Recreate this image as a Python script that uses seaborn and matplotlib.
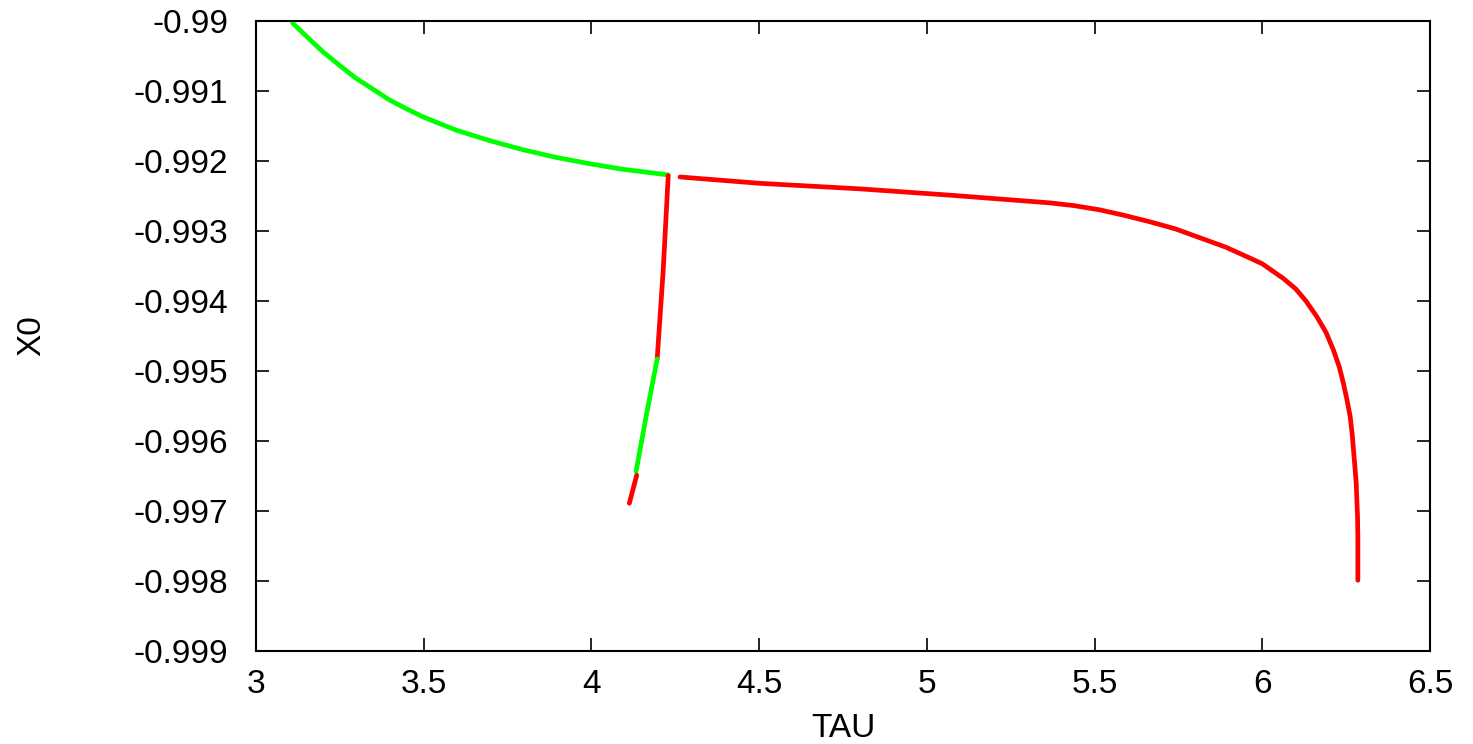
import matplotlib
matplotlib.use("Agg")
import matplotlib.pyplot as plt
import pandas as pd
import seaborn as sns

# upper branch, stable part (green)
tau_g1 = [3.109, 3.150, 3.199, 3.250, 3.298, 3.350, 3.398, 3.450, 3.497, 3.596, 3.696,
          3.795, 3.894, 3.994, 4.093, 4.228]
x0_g1 = [-0.99003, -0.99022, -0.99044, -0.99064, -0.99082, -0.99098, -0.99113, -0.99126,
         -0.99137, -0.99156, -0.99171, -0.99184, -0.99195, -0.99204, -0.99212, -0.99220]

# upper branch, unstable part (red)
tau_r1 = [4.264, 4.500, 4.801, 5.069, 5.367, 5.440, 5.516, 5.590, 5.665, 5.740, 5.815,
          5.890, 5.964, 6.000, 6.063, 6.100, 6.130, 6.162, 6.190, 6.212, 6.230, 6.242,
          6.252, 6.262, 6.268, 6.272, 6.276, 6.280, 6.282, 6.284, 6.285, 6.285]
x0_r1 = [-0.99223, -0.99232, -0.99240, -0.99249, -0.99260, -0.99264, -0.99270, -0.99278,
         -0.99287, -0.99297, -0.99310, -0.99323, -0.99339, -0.99347, -0.99368, -0.99383,
         -0.99400, -0.99422, -0.99445, -0.99470, -0.99495, -0.99518, -0.99540, -0.99565,
         -0.99590, -0.99613, -0.99636, -0.99660, -0.99685, -0.99708, -0.99740, -0.99799]

# lower branch
tau_r2 = [4.229, 4.214, 4.196]
x0_r2 = [-0.99221, -0.99356, -0.99483]
tau_g2 = [4.196, 4.165, 4.133]
x0_g2 = [-0.99483, -0.99560, -0.99644]
tau_r3 = [4.135, 4.113]
x0_r3 = [-0.99649, -0.99689]

segments = [
    (tau_g1, x0_g1, "#00ff00"),
    (tau_r1, x0_r1, "#ff0000"),
    (tau_r2, x0_r2, "#ff0000"),
    (tau_g2, x0_g2, "#00ff00"),
    (tau_r3, x0_r3, "#ff0000"),
]

sns.set_style("ticks")
plt.rcParams['font.family'] = ['Liberation Sans', 'DejaVu Sans']
plt.rcParams['text.color'] = 'black'
plt.rcParams['xtick.color'] = 'black'
plt.rcParams['ytick.color'] = 'black'
plt.rcParams['axes.labelcolor'] = 'black'

fig = plt.figure(figsize=(14.73, 7.44), dpi=100)
ax = fig.add_axes([0.1738, 0.125, 0.797, 0.847])

for tau, x0, col in segments:
    df = pd.DataFrame({"TAU": tau, "X0": x0})
    sns.lineplot(data=df, x="TAU", y="X0", sort=False, estimator=None,
                 color=col, linewidth=3.4, ax=ax)
for line in ax.get_lines():
    line.set_solid_joinstyle("round")

ax.set_xlim(3, 6.5)
ax.set_ylim(-0.999, -0.99)
ax.set_xticks([3, 3.5, 4, 4.5, 5, 5.5, 6, 6.5])
ax.set_xticklabels(["3", "3.5", "4", "4.5", "5", "5.5", "6", "6.5"])
yt = [-0.999, -0.998, -0.997, -0.996, -0.995, -0.994, -0.993, -0.992, -0.991, -0.99]
ax.set_yticks(yt)
ax.set_yticklabels(["-0.999", "-0.998", "-0.997", "-0.996", "-0.995", "-0.994",
                    "-0.993", "-0.992", "-0.991", "-0.99"])

ax.tick_params(axis="both", direction="in", length=9.5, width=1.2, labelsize=24,
               top=True, right=True, color="black", labelcolor="black")
ax.tick_params(axis="y", pad=20)
ax.tick_params(axis="x", pad=13)
for s in ax.spines.values():
    s.set_linewidth(1.5)
    s.set_color("black")

ax.set_xlabel("TAU", fontsize=24)
ax.set_ylabel("X0", fontsize=24)
ax.xaxis.set_label_coords(0.5, -0.098)
ax.yaxis.set_label_coords(-0.178, 0.5)

fig.savefig("out.png", dpi=100)
